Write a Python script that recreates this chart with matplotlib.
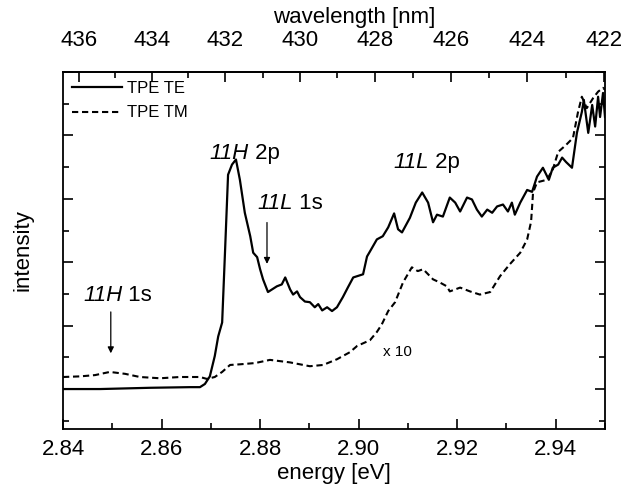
import numpy as np
import matplotlib.pyplot as plt
from matplotlib.ticker import MultipleLocator, NullFormatter

plt.rcParams['font.family'] = ['Liberation Sans', 'DejaVu Sans']

# --- data (energy in eV, intensity in arb. units) ---
energy_te = [2.8400, 2.8475, 2.8577, 2.8658, 2.8678, 2.8688, 2.8698, 2.8708,
             2.8715, 2.8723, 2.8729, 2.8735, 2.8743, 2.8751, 2.8759, 2.8769,
             2.8780, 2.8786, 2.8794, 2.8800, 2.8806, 2.8816, 2.8824, 2.8834,
             2.8844, 2.8851, 2.8861, 2.8867, 2.8875, 2.8881, 2.8891, 2.8901,
             2.8911, 2.8918, 2.8926, 2.8936, 2.8946, 2.8956, 2.8968, 2.8978,
             2.8989, 2.8997, 2.9009, 2.9017, 2.9023, 2.9037, 2.9049, 2.9060,
             2.9072, 2.9080, 2.9088, 2.9104, 2.9116, 2.9129, 2.9141, 2.9151,
             2.9159, 2.9171, 2.9185, 2.9196, 2.9206, 2.9220, 2.9230, 2.9240,
             2.9250, 2.9261, 2.9271, 2.9281, 2.9293, 2.9303, 2.9311, 2.9317,
             2.9328, 2.9342, 2.9352, 2.9362, 2.9374, 2.9386, 2.9394, 2.9405,
             2.9413, 2.9421, 2.9433, 2.9443, 2.9453, 2.9457, 2.9466, 2.9474,
             2.9480, 2.9486, 2.9490, 2.9496, 2.9500]
intensity_te = [0.00, 0.00, 0.02, 0.03, 0.03, 0.08, 0.20, 0.52,
                0.83, 1.05, 2.20, 3.38, 3.54, 3.62, 3.30, 2.78,
                2.41, 2.15, 2.08, 1.89, 1.73, 1.53, 1.57, 1.62,
                1.65, 1.76, 1.57, 1.49, 1.54, 1.45, 1.38, 1.37,
                1.29, 1.34, 1.24, 1.29, 1.23, 1.29, 1.45, 1.60,
                1.76, 1.78, 1.81, 2.09, 2.17, 2.36, 2.41, 2.55,
                2.77, 2.52, 2.47, 2.70, 2.94, 3.10, 2.94, 2.63,
                2.75, 2.72, 3.02, 2.94, 2.80, 3.02, 2.99, 2.83,
                2.72, 2.83, 2.78, 2.88, 2.91, 2.80, 2.94, 2.75,
                2.94, 3.14, 3.11, 3.35, 3.49, 3.30, 3.49, 3.54,
                3.65, 3.58, 3.49, 4.04, 4.37, 4.56, 4.04, 4.48,
                4.14, 4.61, 4.29, 4.67, 4.29]

# TM trace, already multiplied by 10 as in the figure
energy_tm = [2.8400, 2.8435, 2.8465, 2.8495, 2.8526, 2.8556, 2.8597, 2.8637,
             2.8678, 2.8692, 2.8708, 2.8723, 2.8739, 2.8759, 2.8790, 2.8820,
             2.8861, 2.8901, 2.8928, 2.8956, 2.8982, 2.8997, 2.9023, 2.9037,
             2.9047, 2.9060, 2.9074, 2.9090, 2.9108, 2.9120, 2.9131, 2.9151,
             2.9165, 2.9179, 2.9185, 2.9206, 2.9226, 2.9246, 2.9267, 2.9287,
             2.9307, 2.9328, 2.9342, 2.9350, 2.9354, 2.9362, 2.9382, 2.9394,
             2.9405, 2.9421, 2.9435, 2.9445, 2.9453, 2.9463, 2.9476, 2.9486,
             2.9496, 2.9500]
intensity_tm = [0.19, 0.20, 0.22, 0.27, 0.24, 0.19, 0.17, 0.19,
                0.19, 0.16, 0.19, 0.27, 0.38, 0.39, 0.41, 0.46,
                0.42, 0.36, 0.38, 0.47, 0.58, 0.68, 0.77, 0.90,
                1.02, 1.23, 1.37, 1.68, 1.92, 1.86, 1.89, 1.73,
                1.68, 1.62, 1.54, 1.60, 1.54, 1.49, 1.53, 1.78,
                1.97, 2.15, 2.36, 2.64, 3.10, 3.26, 3.30, 3.46,
                3.74, 3.85, 3.96, 4.36, 4.61, 4.43, 4.59, 4.69,
                4.75, 4.72]

energy_ticks = [2.84, 2.86, 2.88, 2.90, 2.92, 2.94]
wavelength_ticks = [436, 434, 432, 430, 428, 426, 424, 422]

# peak labels: (italic part, upright part, left edge energy, height)
peak_labels = [
    ("11H", " 2p", 2.8697, 3.72),
    ("11L", " 1s", 2.8794, 2.92),
    ("11L", " 2p", 2.9070, 3.58),
    ("11H", " 1s", 2.8441, 1.48),
]
# arrows: (energy, tail height, head height)
peak_arrows = [
    (2.8814, 2.67, 1.93),
    (2.8497, 1.26, 0.52),
]

# top axis scale, fitted to where the wavelength ticks sit in the figure
WL_A = -0.3731
WL_B = 1402.3


def ev_to_nm(e):
    e = np.asarray(e, dtype=float)
    with np.errstate(divide="ignore", invalid="ignore"):
        return WL_B / (e - WL_A)


def nm_to_ev(lam):
    lam = np.asarray(lam, dtype=float)
    with np.errstate(divide="ignore", invalid="ignore"):
        return WL_A + WL_B / lam


fig = plt.figure(figsize=(6.41, 4.87), dpi=100)
ax = fig.add_axes([63 / 641, 1 - 429 / 487, 542 / 641, 357 / 487])

ax.plot(energy_te, intensity_te, color="black", lw=1.6, label="TPE TE")
ax.plot(energy_tm, intensity_tm, color="black", lw=1.5, dashes=(3, 1.8),
        label="TPE TM")

ax.set_xlim(2.84, 2.95)
ax.set_ylim(-0.63, 5.0)
ax.set_xticks(energy_ticks)
ax.set_xticklabels([f"{t:.2f}" for t in energy_ticks])
ax.xaxis.set_minor_locator(MultipleLocator(0.01))
ax.yaxis.set_major_locator(MultipleLocator(1))
ax.yaxis.set_minor_locator(MultipleLocator(0.5))
ax.yaxis.set_major_formatter(NullFormatter())

ax.tick_params(which="both", direction="in", top=False, right=True,
               width=1.2, labelsize=16, pad=7)
ax.tick_params(which="major", length=7)
ax.tick_params(which="minor", length=4)
for sp in ax.spines.values():
    sp.set_linewidth(1.3)

ax.set_xlabel("energy [eV]", fontsize=16, labelpad=2)
ax.set_ylabel("intensity", fontsize=16, labelpad=14)

secax = ax.secondary_xaxis("top", functions=(ev_to_nm, nm_to_ev))
secax.set_xticks(wavelength_ticks)
secax.set_xticklabels([str(t) for t in wavelength_ticks])
secax.xaxis.set_minor_locator(MultipleLocator(1))
secax.tick_params(which="both", direction="in", width=1.2, labelsize=16, pad=15)
secax.tick_params(which="major", length=7)
secax.tick_params(which="minor", length=4)
secax.spines["top"].set_linewidth(1.3)
secax.set_xlabel("wavelength [nm]", fontsize=16, labelpad=5)
secax.xaxis.label.set_x(0.537)

# peak labels: italic state name followed by upright orbital
for ital, rest, e_left, h in peak_labels:
    t = ax.text(e_left, h, ital, fontsize=16, style="italic",
                ha="left", va="center")
    ax.annotate(rest, xy=(1, 0.5), xycoords=t, fontsize=16,
                ha="left", va="center")

arrow = dict(arrowstyle="-|>", color="black", lw=0.9, mutation_scale=9)
for e, tail, head in peak_arrows:
    ax.annotate("", xy=(e, head), xytext=(e, tail), arrowprops=arrow)

ax.text(2.9078, 0.58, "x 10", fontsize=11, ha="center", va="center")

ax.legend(loc="upper left", frameon=False, fontsize=12, handlelength=3.0,
          handletextpad=0.3, borderaxespad=0.35, borderpad=0.2,
          labelspacing=0.55)

fig.savefig("out.png", dpi=100)
